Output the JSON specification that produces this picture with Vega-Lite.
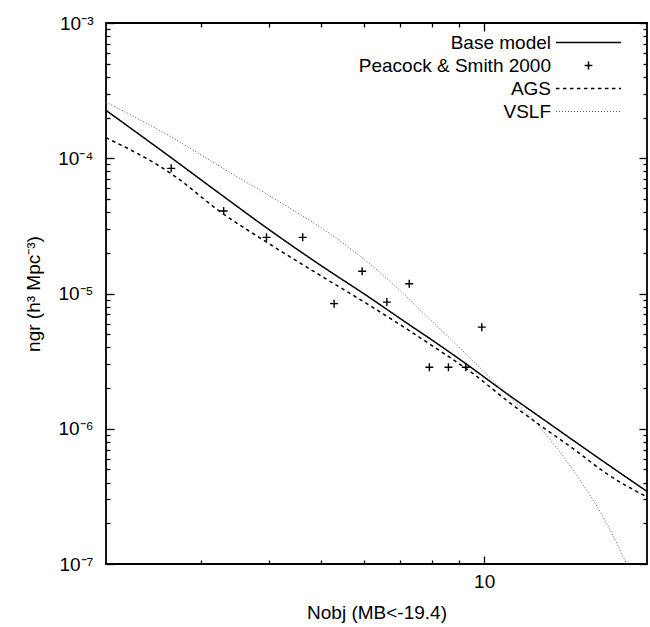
{
  "$schema": "https://vega.github.io/schema/vega-lite/v6.json",
  "width": 541,
  "height": 541,
  "autosize": {"type": "none"},
  "padding": {"left": 106, "top": 23, "right": 3, "bottom": 63},
  "background": "white",
  "config": {
    "font": "Liberation Sans",
    "view": {"stroke": "black", "strokeWidth": 1.8},
    "axis": {
      "domain": false,
      "grid": false,
      "tickColor": "black",
      "tickWidth": 1.3,
      "labelColor": "black",
      "titleColor": "black",
      "labelFontSize": 19,
      "titleFontSize": 19,
      "labelFont": "Liberation Sans",
      "titleFont": "Liberation Sans",
      "titleFontWeight": "normal",
      "labelFlush": false,
      "labelOverlap": false
    },
    "legend": {
      "labelFont": "Liberation Sans",
      "labelFontSize": 19,
      "labelColor": "black"
    }
  },
  "datasets": {
    "curves": [
      {"series": "Base model", "nobj": 2.0, "ngr": 2.26e-4},
      {"series": "Base model", "nobj": 2.63, "ngr": 1.02e-4},
      {"series": "Base model", "nobj": 3.29, "ngr": 5.26e-5},
      {"series": "Base model", "nobj": 3.96, "ngr": 3.06e-5},
      {"series": "Base model", "nobj": 5.04, "ngr": 1.57e-5},
      {"series": "Base model", "nobj": 6.07, "ngr": 9.63e-6},
      {"series": "Base model", "nobj": 7.19, "ngr": 6.06e-6},
      {"series": "Base model", "nobj": 8.29, "ngr": 4.12e-6},
      {"series": "Base model", "nobj": 9.28, "ngr": 3.0e-6},
      {"series": "Base model", "nobj": 11.01, "ngr": 1.82e-6},
      {"series": "Base model", "nobj": 12.69, "ngr": 1.22e-6},
      {"series": "Base model", "nobj": 14.62, "ngr": 8.19e-7},
      {"series": "Base model", "nobj": 16.85, "ngr": 5.51e-7},
      {"series": "Base model", "nobj": 20.0, "ngr": 3.44e-7},
      {"series": "AGS", "nobj": 2.0, "ngr": 1.42e-4},
      {"series": "AGS", "nobj": 2.64, "ngr": 7.69e-5},
      {"series": "AGS", "nobj": 3.29, "ngr": 3.89e-5},
      {"series": "AGS", "nobj": 3.96, "ngr": 2.40e-5},
      {"series": "AGS", "nobj": 5.04, "ngr": 1.32e-5},
      {"series": "AGS", "nobj": 6.07, "ngr": 8.41e-6},
      {"series": "AGS", "nobj": 8.17, "ngr": 3.91e-6},
      {"series": "AGS", "nobj": 9.55, "ngr": 2.55e-6},
      {"series": "AGS", "nobj": 11.01, "ngr": 1.62e-6},
      {"series": "AGS", "nobj": 12.69, "ngr": 1.06e-6},
      {"series": "AGS", "nobj": 14.62, "ngr": 7.11e-7},
      {"series": "AGS", "nobj": 16.85, "ngr": 4.65e-7},
      {"series": "AGS", "nobj": 20.0, "ngr": 3.13e-7},
      {"series": "VSLF", "nobj": 2.0, "ngr": 2.60e-4},
      {"series": "VSLF", "nobj": 2.63, "ngr": 1.45e-4},
      {"series": "VSLF", "nobj": 3.29, "ngr": 8.42e-5},
      {"series": "VSLF", "nobj": 4.38, "ngr": 4.26e-5},
      {"series": "VSLF", "nobj": 5.08, "ngr": 2.93e-5},
      {"series": "VSLF", "nobj": 6.42, "ngr": 1.43e-5},
      {"series": "VSLF", "nobj": 8.05, "ngr": 6.11e-6},
      {"series": "VSLF", "nobj": 10.7, "ngr": 2.02e-6},
      {"series": "VSLF", "nobj": 12.69, "ngr": 1.02e-6},
      {"series": "VSLF", "nobj": 14.62, "ngr": 4.91e-7},
      {"series": "VSLF", "nobj": 16.85, "ngr": 1.99e-7},
      {"series": "VSLF", "nobj": 18.34, "ngr": 1.0e-7}
    ],
    "obs": [
      {"series": "Peacock & Smith 2000", "nobj": 2.64, "ngr": 8.42e-5},
      {"series": "Peacock & Smith 2000", "nobj": 3.30, "ngr": 4.07e-5},
      {"series": "Peacock & Smith 2000", "nobj": 3.96, "ngr": 2.60e-5},
      {"series": "Peacock & Smith 2000", "nobj": 4.62, "ngr": 2.60e-5},
      {"series": "Peacock & Smith 2000", "nobj": 5.28, "ngr": 8.41e-6},
      {"series": "Peacock & Smith 2000", "nobj": 5.95, "ngr": 1.46e-5},
      {"series": "Peacock & Smith 2000", "nobj": 6.61, "ngr": 8.64e-6},
      {"series": "Peacock & Smith 2000", "nobj": 7.27, "ngr": 1.18e-5},
      {"series": "Peacock & Smith 2000", "nobj": 7.92, "ngr": 2.85e-6},
      {"series": "Peacock & Smith 2000", "nobj": 8.59, "ngr": 2.85e-6},
      {"series": "Peacock & Smith 2000", "nobj": 9.25, "ngr": 2.85e-6},
      {"series": "Peacock & Smith 2000", "nobj": 9.90, "ngr": 5.64e-6}
    ]
  },
  "layer": [
    {
      "data": {"name": "curves"},
      "mark": {"type": "line", "interpolate": "monotone", "clip": true},
      "encoding": {
        "x": {
          "field": "nobj",
          "type": "quantitative",
          "scale": {"type": "log", "domain": [2, 20], "nice": false},
          "axis": {
            "orient": "bottom",
            "values": [3, 4, 5, 6, 7, 8, 9, 10],
            "labelExpr": "datum.value == 10 ? '10' : ''",
            "tickSize": {"condition": {"test": "datum.value == 10", "value": -8}, "value": -4},
            "labelPadding": 16,
            "title": "Nobj (MB<-19.4)",
            "titlePadding": 8
          }
        },
        "y": {
          "field": "ngr",
          "type": "quantitative",
          "scale": {"type": "log", "domain": [1e-7, 1e-3], "nice": false},
          "axis": {
            "orient": "left",
            "values": [1e-7, 2e-7, 3e-7, 4e-7, 5e-7, 6e-7, 7e-7, 8e-7, 9e-7, 1e-6, 2e-6, 3e-6, 4e-6, 5e-6, 6e-6, 7e-6, 8e-6, 9e-6, 1e-5, 2e-5, 3e-5, 4e-5, 5e-5, 6e-5, 7e-5, 8e-5, 9e-5, 1e-4, 2e-4, 3e-4, 4e-4, 5e-4, 6e-4, 7e-4, 8e-4, 9e-4, 1e-3],
            "labelExpr": "datum.value == 0.001 ? '10⁻³' : datum.value == 0.0001 ? '10⁻⁴' : datum.value == 0.00001 ? '10⁻⁵' : datum.value == 0.000001 ? '10⁻⁶' : datum.value == 0.0000001 ? '10⁻⁷' : ''",
            "tickSize": {"condition": {"test": "abs(log(datum.value)/LN10 - round(log(datum.value)/LN10)) < 0.000001", "value": -8}, "value": -4},
            "labelPadding": 21,
            "title": "ngr (h³ Mpc⁻³)",
            "titlePadding": 14
          }
        },
        "strokeDash": {
          "field": "series",
          "type": "nominal",
          "scale": {
            "domain": ["Base model", "Peacock & Smith 2000", "AGS", "VSLF"],
            "range": [[1, 0], [1, 0], [3.5, 3.5], [1, 2]]
          },
          "legend": {
            "orient": "none",
            "legendX": 473,
            "legendY": 10,
            "padding": 0,
            "rowPadding": 3,
            "title": null,
            "symbolType": "M-3.1,0L3.1,0",
            "symbolSize": 441,
            "symbolStrokeColor": "black",
            "symbolStrokeWidth": 1.5,
            "labelAlign": "right",
            "labelOffset": -47,
            "labelLimit": 0,
            "encode": {
              "symbols": {
                "update": {
                  "shape": {"signal": "datum.value === 'Peacock & Smith 2000' ? 'M-0.37,0L0.37,0M0,-0.37L0,0.37' : 'M-3.1,0L3.1,0'"},
                  "stroke": {"signal": "datum.value === 'VSLF' ? '#555555' : 'black'"},
                  "strokeWidth": {"signal": "datum.value === 'VSLF' ? 1 : 1.5"},
                  "fill": {"value": "transparent"}
                }
              }
            }
          }
        },
        "color": {"condition": {"test": "datum.series === 'VSLF'", "value": "#555555"}, "value": "black"},
        "strokeWidth": {"condition": {"test": "datum.series === 'VSLF'", "value": 1}, "value": 1.5}
      }
    },
    {
      "data": {"name": "obs"},
      "mark": {"type": "point", "shape": "M-1,0L1,0M0,-1L0,1", "size": 64, "filled": false, "stroke": "black", "strokeWidth": 1.4, "opacity": 1, "clip": true},
      "encoding": {
        "x": {
          "field": "nobj",
          "type": "quantitative",
          "scale": {"type": "log", "domain": [2, 20], "nice": false},
          "axis": {
            "orient": "top",
            "values": [3, 4, 5, 6, 7, 8, 9, 10],
            "labels": false,
            "title": null,
            "tickSize": {"condition": {"test": "datum.value == 10", "value": -8}, "value": -4}
          }
        },
        "y": {
          "field": "ngr",
          "type": "quantitative",
          "scale": {"type": "log", "domain": [1e-7, 1e-3], "nice": false},
          "axis": {
            "orient": "right",
            "values": [1e-7, 2e-7, 3e-7, 4e-7, 5e-7, 6e-7, 7e-7, 8e-7, 9e-7, 1e-6, 2e-6, 3e-6, 4e-6, 5e-6, 6e-6, 7e-6, 8e-6, 9e-6, 1e-5, 2e-5, 3e-5, 4e-5, 5e-5, 6e-5, 7e-5, 8e-5, 9e-5, 1e-4, 2e-4, 3e-4, 4e-4, 5e-4, 6e-4, 7e-4, 8e-4, 9e-4, 1e-3],
            "labels": false,
            "title": null,
            "tickSize": {"condition": {"test": "abs(log(datum.value)/LN10 - round(log(datum.value)/LN10)) < 0.000001", "value": -8}, "value": -4}
          }
        }
      }
    }
  ],
  "resolve": {"axis": {"x": "independent", "y": "independent"}}
}
